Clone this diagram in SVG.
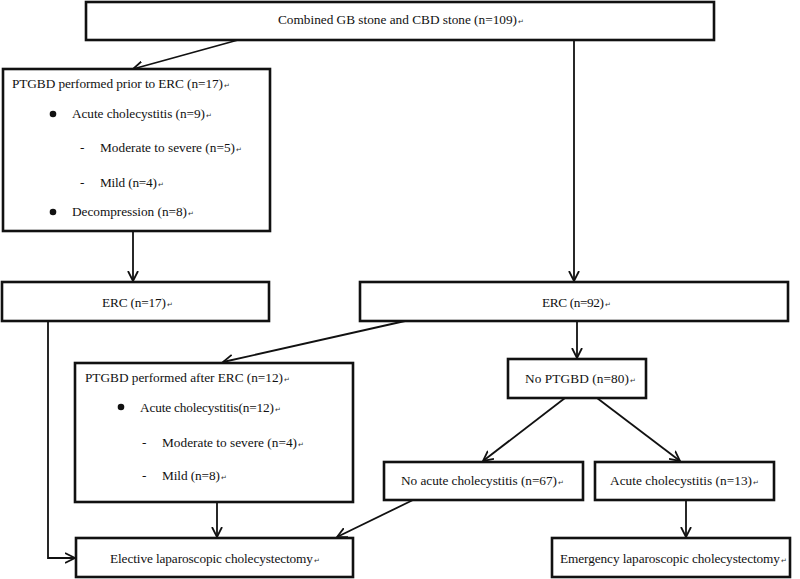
<svg xmlns="http://www.w3.org/2000/svg" width="800" height="579" viewBox="0 0 800 579">
<style>
.box{fill:#fff;stroke:#111;stroke-width:2.6}
.t{font-family:"Liberation Serif","Times New Roman",serif;font-size:13.3px;fill:#111}
.pm{font-family:"DejaVu Sans",sans-serif;font-size:7px;fill:#333}
.c{fill:none;stroke:#111;stroke-width:1.8}
</style>
<defs>
<marker id="arr" markerUnits="userSpaceOnUse" markerWidth="12" markerHeight="12" refX="10" refY="5" orient="auto" viewBox="0 0 12 10">
<path d="M0,0 L10,5 L0,10" fill="none" stroke="#111" stroke-width="1.8"/>
</marker>
</defs>
<rect width="800" height="579" fill="#fff"/>
<g id="connectors">
<line class="c" x1="238" y1="40" x2="133" y2="69" marker-end="url(#arr)"/>
<line class="c" x1="574" y1="40" x2="574" y2="281" marker-end="url(#arr)"/>
<line class="c" x1="133" y1="231" x2="133" y2="281" marker-end="url(#arr)"/>
<polyline class="c" points="48,321 48,558 75,558" marker-end="url(#arr)"/>
<line class="c" x1="405" y1="321" x2="223" y2="362" marker-end="url(#arr)"/>
<line class="c" x1="577" y1="321" x2="577" y2="358" marker-end="url(#arr)"/>
<line class="c" x1="565" y1="398" x2="483" y2="461" marker-end="url(#arr)"/>
<line class="c" x1="597" y1="398" x2="680" y2="461" marker-end="url(#arr)"/>
<line class="c" x1="217" y1="502" x2="217" y2="537" marker-end="url(#arr)"/>
<line class="c" x1="413" y1="500" x2="337" y2="537" marker-end="url(#arr)"/>
<line class="c" x1="686" y1="500" x2="686" y2="537" marker-end="url(#arr)"/>
</g>
<g id="n_top">
<rect class="box" x="86" y="2" width="628" height="38"/>
<text class="t" x="278" y="24" textLength="239" lengthAdjust="spacing">Combined GB stone and CBD stone (n=109)</text>
<text class="pm" x="518" y="24">↵</text>
</g>
<g id="n_ptgbd_prior">
<rect class="box" x="3" y="69" width="267" height="162"/>
<text class="t" x="12" y="88" textLength="211" lengthAdjust="spacing">PTGBD performed prior to ERC (n=17)</text>
<text class="pm" x="224" y="88">↵</text>
<circle cx="53" cy="114" r="3.3" fill="#111"/>
<text class="t" x="72" y="118" textLength="133" lengthAdjust="spacing">Acute cholecystitis (n=9)</text>
<text class="pm" x="206" y="118">↵</text>
<text class="t" x="80" y="152">-</text>
<text class="t" x="100" y="152" textLength="135" lengthAdjust="spacing">Moderate to severe (n=5)</text>
<text class="pm" x="236" y="152">↵</text>
<text class="t" x="80" y="187">-</text>
<text class="t" x="100" y="187" textLength="57" lengthAdjust="spacing">Mild (n=4)</text>
<text class="pm" x="158" y="187">↵</text>
<circle cx="53" cy="212" r="3.3" fill="#111"/>
<text class="t" x="72" y="216" textLength="115" lengthAdjust="spacing">Decompression (n=8)</text>
<text class="pm" x="188" y="216">↵</text>
</g>
<g id="n_erc17">
<rect class="box" x="2" y="282" width="267" height="39"/>
<text class="t" x="102" y="307" textLength="64" lengthAdjust="spacing">ERC (n=17)</text>
<text class="pm" x="167" y="307">↵</text>
</g>
<g id="n_erc92">
<rect class="box" x="360" y="282" width="428" height="39"/>
<text class="t" x="542" y="307" textLength="62" lengthAdjust="spacing">ERC (n=92)</text>
<text class="pm" x="605" y="307">↵</text>
</g>
<g id="n_ptgbd_after">
<rect class="box" x="75" y="363" width="278" height="139"/>
<text class="t" x="85" y="382" textLength="198" lengthAdjust="spacing">PTGBD performed after ERC (n=12)</text>
<text class="pm" x="284" y="382">↵</text>
<circle cx="121" cy="407" r="3.3" fill="#111"/>
<text class="t" x="140" y="412" textLength="134" lengthAdjust="spacing">Acute cholecystitis(n=12)</text>
<text class="pm" x="275" y="412">↵</text>
<text class="t" x="142" y="447">-</text>
<text class="t" x="162" y="447" textLength="135" lengthAdjust="spacing">Moderate to severe (n=4)</text>
<text class="pm" x="298" y="447">↵</text>
<text class="t" x="142" y="480">-</text>
<text class="t" x="162" y="480" textLength="58" lengthAdjust="spacing">Mild (n=8)</text>
<text class="pm" x="221" y="480">↵</text>
</g>
<g id="n_noptgbd">
<rect class="box" x="508" y="359" width="138" height="39"/>
<text class="t" x="525" y="383" textLength="104" lengthAdjust="spacing">No PTGBD (n=80)</text>
<text class="pm" x="630" y="383">↵</text>
</g>
<g id="n_noacute">
<rect class="box" x="384" y="462" width="199" height="38"/>
<text class="t" x="401" y="485" textLength="156" lengthAdjust="spacing">No acute cholecystitis (n=67)</text>
<text class="pm" x="558" y="485">↵</text>
</g>
<g id="n_acute">
<rect class="box" x="595" y="462" width="179" height="38"/>
<text class="t" x="610" y="485" textLength="142" lengthAdjust="spacing">Acute cholecystitis (n=13)</text>
<text class="pm" x="753" y="485">↵</text>
</g>
<g id="n_elective">
<rect class="box" x="76" y="538" width="277" height="39"/>
<text class="t" x="110" y="563" textLength="203" lengthAdjust="spacing">Elective laparoscopic cholecystectomy</text>
<text class="pm" x="314" y="563">↵</text>
</g>
<g id="n_emergency">
<rect class="box" x="552" y="538" width="238" height="39"/>
<text class="t" x="560" y="563" textLength="220" lengthAdjust="spacing">Emergency laparoscopic cholecystectomy</text>
<text class="pm" x="781" y="563">↵</text>
</g>
</svg>
